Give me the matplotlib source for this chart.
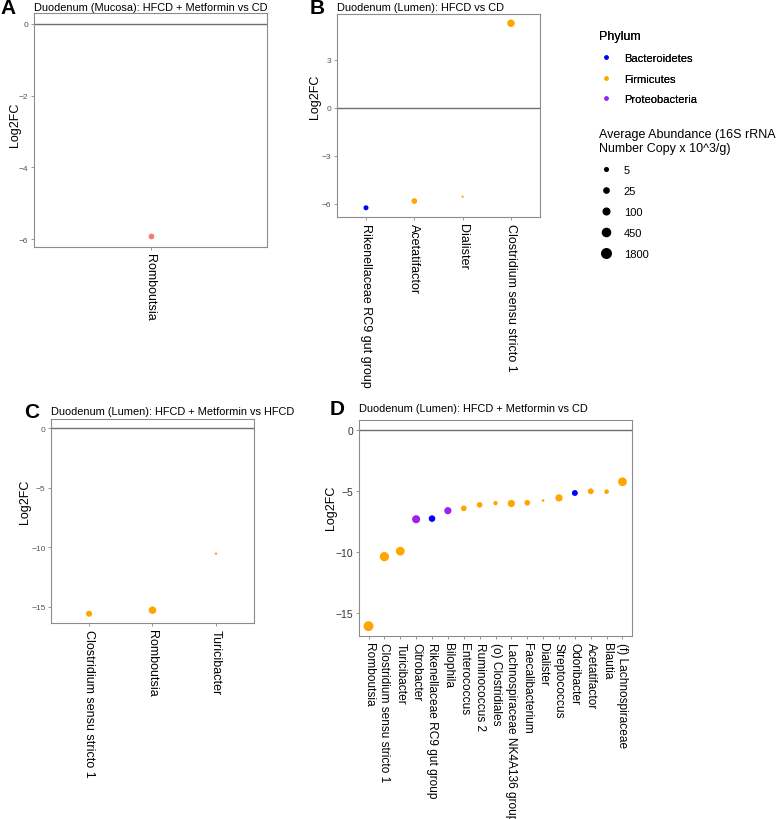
import numpy as np
import matplotlib
matplotlib.use('agg')
import matplotlib.pyplot as plt
from matplotlib.lines import Line2D
from matplotlib import rcParams
rcParams['font.family'] = ['Liberation Sans', 'DejaVu Sans']

# ---- data ----
phylum_colors = {'Bacteroidetes': '#0000FF', 'Firmicutes': '#FFA500', 'Proteobacteria': '#A020F0'}
size_breaks = [5, 25, 100, 450, 1800]

a_taxa = ['Romboutsia']
a_lfc = [-5.92]
a_abund = [12]

b_taxa = ['Rikenellaceae RC9 gut group', 'Acetatifactor', 'Dialister', 'Clostridium sensu stricto 1']
b_lfc = [-6.25, -5.83, -5.56, 5.27]
b_abund = [6, 12, 0.3, 80]
b_phylum = ['Bacteroidetes', 'Firmicutes', 'Firmicutes', 'Firmicutes']

c_taxa = ['Clostridium sensu stricto 1', 'Romboutsia', 'Turicibacter']
c_lfc = [-15.6, -15.3, -10.55]
c_abund = [18, 80, 0.4]
c_phylum = ['Firmicutes', 'Firmicutes', 'Firmicutes']

d_taxa = ['Romboutsia', 'Clostridium sensu stricto 1', 'Turicibacter', 'Citrobacter',
          'Rikenellaceae RC9 gut group', 'Bilophila', 'Enterococcus', 'Ruminococcus 2',
          '(o) Clostridiales', 'Lachnospiraceae NK4A136 group', 'Faecalibacterium',
          'Dialister', 'Streptococcus', 'Odoribacter', 'Acetatifactor', 'Blautia',
          '(f) Lachnospiraceae']
d_lfc = [-16.1, -10.4, -9.95, -7.33, -7.28, -6.63, -6.44, -6.15, -6.01, -6.04,
         -5.98, -5.80, -5.58, -5.18, -5.04, -5.07, -4.26]
d_abund = [1000, 500, 300, 150, 30, 60, 12, 12, 3, 60, 12, 0.5, 60, 15, 15, 4, 300]
d_phylum = ['Firmicutes', 'Firmicutes', 'Firmicutes', 'Proteobacteria', 'Bacteroidetes',
            'Proteobacteria', 'Firmicutes', 'Firmicutes', 'Firmicutes', 'Firmicutes',
            'Firmicutes', 'Firmicutes', 'Firmicutes', 'Bacteroidetes', 'Firmicutes',
            'Firmicutes', 'Firmicutes']

W, H = 777, 820
fig = plt.figure(figsize=(W / 100, H / 100), dpi=100)


def px_ax(left, top, right, bottom):
    return fig.add_axes([left / W, 1 - bottom / H, (right - left) / W, (bottom - top) / H])


def msize(a):
    # point diameter in px from abundance, then to points^2
    d = np.clip(3.3 + 2.2 * np.log10(np.asarray(a, float)), 1.8, None)
    return (d * 0.72) ** 2


def panel(box, taxa, lfc, abund, colors, title, letter, tick_fs, tick_col, lab_fs,
          title_y, letter_x, ylab_xy):
    left, top, right, bottom = box
    ax = px_ax(*box)
    x = np.arange(1, len(taxa) + 1)
    ax.axhline(0, color='#6e6e6e', lw=1.0, zorder=1)
    ax.scatter(x, lfc, s=msize(abund), c=colors, linewidths=0, zorder=3)
    lo = min(min(lfc), 0)
    hi = max(max(lfc), 0)
    pad = 0.05 * (hi - lo)
    ax.set_ylim(lo - pad, hi + pad)
    ax.set_xlim(0.4, len(taxa) + 0.6)
    ax.set_xticks(x)
    ax.set_xticklabels(taxa, rotation=-90, fontsize=lab_fs, va='top', ha='center')
    ax.tick_params(axis='y', labelsize=tick_fs, labelcolor=tick_col, color='#888888',
                   length=2.5, width=0.6, pad=1.5)
    ax.tick_params(axis='x', color='#888888', length=2.5, width=0.6, pad=2)
    for s in ax.spines.values():
        s.set_color('#8c8c8c')
        s.set_linewidth(0.8)
    ax.set_ylabel('Log2FC', fontsize=9)
    lx, ly = ylab_xy
    ax.yaxis.set_label_coords((lx - left) / (right - left), (bottom - ly) / (bottom - top))
    fig.text(left / W, 1 - title_y / H, title, fontsize=7.9, ha='left', va='center')
    fig.text(letter_x / W, 1 - (title_y + 1) / H, letter, fontsize=15, fontweight='bold',
             ha='right', va='center')
    return ax


axA = panel((34, 14, 267, 248), a_taxa, a_lfc, a_abund, ['#F8766D'],
            'Duodenum (Mucosa): HFCD + Metformin vs CD', 'A', 6, '#555555', 9,
            8, 16, (21, 125))
axA.set_yticks([0, -2, -4, -6])

axB = panel((337, 15, 540, 218), b_taxa, b_lfc, b_abund, [phylum_colors[p] for p in b_phylum],
            'Duodenum (Lumen): HFCD vs CD', 'B', 6, '#555555', 9,
            8, 325, (321, 97))
axB.set_yticks([3, 0, -3, -6])

axC = panel((51, 420, 254, 624), c_taxa, c_lfc, c_abund, [phylum_colors[p] for p in c_phylum],
            'Duodenum (Lumen): HFCD + Metformin vs HFCD', 'C', 6, '#555555', 9,
            412, 39, (31, 502))
axC.set_yticks([0, -5, -10, -15])

axD = panel((359, 421, 632, 637), d_taxa, d_lfc, d_abund, [phylum_colors[p] for p in d_phylum],
            'Duodenum (Lumen): HFCD + Metformin vs CD', 'D', 7.5, '#333333', 8.6,
            409, 345, (337, 508))
axD.set_yticks([0, -5, -10, -15])

# ---- legends ----
col_handles = [Line2D([], [], ls='', marker='o', markersize=3.2, markeredgewidth=0,
                      color=phylum_colors[k], label=k) for k in phylum_colors]
size_handles = [Line2D([], [], ls='', marker='o', markersize=np.sqrt(msize(b)) * 1.05,
                       markeredgewidth=0, color='black', label=str(b)) for b in size_breaks]
leg1 = fig.legend(handles=col_handles, title='Phylum', loc='upper left',
                  bbox_to_anchor=(595 / W, 1 - 27 / H), frameon=False, fontsize=8,
                  title_fontproperties={'size': 9, 'weight': 'normal'},
                  labelspacing=0.95, handletextpad=1.0,
                  handlelength=1.2, alignment='left', borderaxespad=0)
leg2 = fig.legend(handles=size_handles,
                  title='Average Abundance (16S rRNA\nNumber Copy x 10^3/g)',
                  loc='upper left', bbox_to_anchor=(595 / W, 1 - 125 / H), frameon=False,
                  fontsize=8, title_fontproperties={'size': 9, 'weight': 'normal'},
                  labelspacing=0.98, handletextpad=1.0,
                  handlelength=1.2, alignment='left', borderaxespad=0)
fig.add_artist(leg1)

fig.savefig('out.png', dpi=100)
